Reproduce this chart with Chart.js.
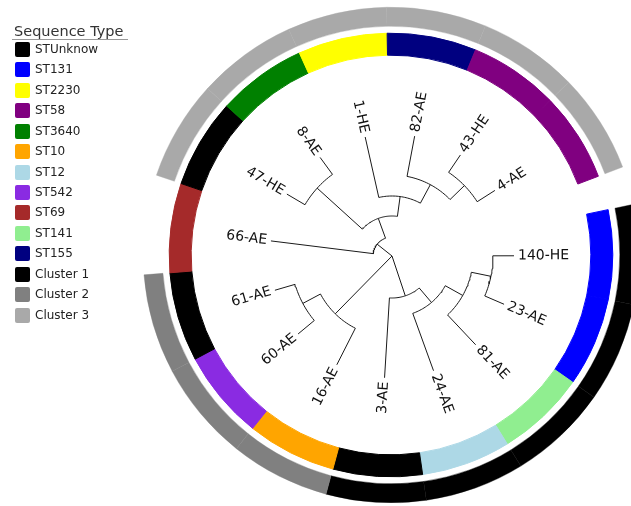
<!DOCTYPE html>
<html>
<head>
<meta charset="utf-8">
<script src="https://cdn.jsdelivr.net/npm/chart.js@4"></script>
<style>
  body { margin: 0; width: 631px; height: 506px; overflow: hidden; background: #fff; font-family: "DejaVu Sans", sans-serif; position: relative; }
  canvas { position: absolute; left: 0; top: 0; }
  #legend { position: absolute; left: 0; top: 0; width: 140px; height: 330px; }
  #legend .title { position: absolute; left: 14px; top: 23px; font-size: 14.5px; line-height: 17px; color: #333; white-space: nowrap; }
  #legend .rule { position: absolute; left: 12px; top: 39px; width: 116px; height: 1px; background: #999; }
  #legend .item { position: absolute; left: 15px; height: 15px; line-height: 15px; padding-left: 20px; font-size: 12px; color: #222; white-space: nowrap; }
  #legend .box { position: absolute; left: 0; top: 0; width: 15px; height: 15px; border-radius: 2px; }
</style>
</head>
<body>
<canvas id="rings" width="782" height="510"></canvas>
<canvas id="tree" width="782" height="510"></canvas>
<div id="legend"></div>
<script>
// leaves clockwise, starting just after the open gap on the right
const leaves = ['140-HE', '23-AE', '81-AE', '24-AE', '3-AE', '16-AE', '60-AE', '61-AE', '66-AE', '47-HE', '8-AE', '1-HE', '82-AE', '43-HE', '4-AE'];
const leafType = ['ST131', 'ST131', 'ST141', 'ST12', 'STUnknow', 'ST10', 'ST542', 'STUnknow', 'ST69', 'STUnknow', 'ST3640', 'ST2230', 'ST155', 'ST58', 'ST58'];
const leafCluster = ['Cluster 1', 'Cluster 1', 'Cluster 1', 'Cluster 1', 'Cluster 1', 'Cluster 2', 'Cluster 2', 'Cluster 2', '', 'Cluster 3', 'Cluster 3', 'Cluster 3', 'Cluster 3', 'Cluster 3', 'Cluster 3'];
const leafParent = ['L', 'L', 'K', 'J', 'H', 'G', 'I', 'I', 'F', 'E', 'E', 'A', 'B', 'C', 'C'];

// internal nodes of the tree and their distance from the root
const nodeNames = ['root', 'F', 'D', 'E', 'A', 'B', 'C', 'G', 'I', 'H', 'J', 'K', 'L'];
const nodeParent = ['', 'root', 'F', 'D', 'D', 'A', 'B', 'root', 'G', 'root', 'H', 'J', 'K'];
const nodeRadius = [0, 19, 40, 101, 60, 81, 101, 81, 101, 42, 61, 81, 101];
const tipRadius = 122;

const typeNames = ['STUnknow', 'ST131', 'ST2230', 'ST58', 'ST3640', 'ST10', 'ST12', 'ST542', 'ST69', 'ST141', 'ST155'];
const typeColors = ['#000000', '#0000ff', '#ffff00', '#800080', '#008000', '#ffa500', '#add8e6', '#8a2be2', '#a52a2a', '#90ee90', '#000080'];
const clusterNames = ['Cluster 1', 'Cluster 2', 'Cluster 3'];
const clusterColors = ['#000000', '#808080', '#a9a9a9'];

const slotDeg = 23.4;   // arc given to one leaf
const gapDeg = 9;       // open gap after the last leaf
const startDeg = 78.2;  // where 140-HE's slot begins (clockwise from top)

// ring slots: one per leaf plus the gap
const none = 'rgba(0,0,0,0)';
const slotLabels = leaves.concat(['']);
const slotSize = leaves.map(() => slotDeg).concat([gapDeg]);
const slotTypeColor = leafType.map(t => typeColors[typeNames.indexOf(t)]).concat([none]);
const slotClusterColor = leafCluster.map(c => c ? clusterColors[clusterNames.indexOf(c)] : none).concat([none]);

new Chart(document.getElementById('rings'), {
  type: 'doughnut',
  data: {
    labels: slotLabels,
    datasets: [
      { data: slotSize, backgroundColor: slotClusterColor, borderColor: slotClusterColor, weight: 19, borderWidth: 0.4, hoverOffset: 0 },
      { data: slotSize, backgroundColor: none, weight: 7, borderWidth: 0, hoverOffset: 0 },
      { data: slotSize, backgroundColor: slotTypeColor, borderColor: slotTypeColor, weight: 22, borderWidth: 1, hoverOffset: 0 }
    ]
  },
  options: {
    responsive: false,
    animation: false,
    events: [],
    rotation: startDeg,
    circumference: 360,
    cutout: '80.65%',
    layout: { padding: { left: 143, right: 143, top: 7, bottom: 7 } },
    plugins: { legend: { display: false }, tooltip: { enabled: false } }
  }
});

// tree layout
const leafAngle = leaves.map((l, i) => startDeg + slotDeg * i + slotDeg / 2);
const nodeAngle = {};
function angleOf(name) {
  if (nodeAngle[name] !== undefined) return nodeAngle[name];
  const kids = [];
  leaves.forEach((l, i) => { if (leafParent[i] === name) kids.push(leafAngle[i]); });
  nodeNames.forEach((n, i) => { if (nodeParent[i] === name) kids.push(angleOf(n)); });
  nodeAngle[name] = (Math.min(...kids) + Math.max(...kids)) / 2;
  return nodeAngle[name];
}
nodeNames.forEach(angleOf);

function polar(r, deg) {
  const a = deg * Math.PI / 180;
  return { x: r * Math.sin(a), y: r * Math.cos(a) };
}

// each branch: along the parent's arc to the child's angle, then out to the child
function branch(parent, childR, childA) {
  const pi = nodeNames.indexOf(parent);
  const pr = nodeRadius[pi], pa = nodeAngle[parent];
  const pts = [];
  const steps = Math.max(1, Math.ceil(Math.abs(childA - pa) / 1.5));
  for (let s = 0; s <= steps; s++) pts.push(polar(pr, pa + (childA - pa) * s / steps));
  pts.push(polar(childR, childA));
  return pts;
}

const branches = [];
nodeNames.forEach((n, i) => { if (nodeParent[i]) branches.push(branch(nodeParent[i], nodeRadius[i], nodeAngle[n])); });
leaves.forEach((l, i) => branches.push(branch(leafParent[i], tipRadius, leafAngle[i])));

const leafLabels = {
  id: 'leafLabels',
  afterDatasetsDraw(chart) {
    const { ctx, scales: { x, y } } = chart;
    ctx.save();
    ctx.font = '14px "DejaVu Sans"';
    ctx.fillStyle = '#111';
    ctx.textBaseline = 'middle';
    leaves.forEach((name, i) => {
      const a = ((leafAngle[i] % 360) + 360) % 360;
      const p = polar(tipRadius + 4, a);
      ctx.save();
      ctx.translate(x.getPixelForValue(p.x), y.getPixelForValue(p.y));
      if (a < 180) {
        ctx.rotate((a - 90) * Math.PI / 180);
        ctx.textAlign = 'left';
      } else {
        ctx.rotate((a - 270) * Math.PI / 180);
        ctx.textAlign = 'right';
      }
      ctx.fillText(name, 0, 0);
      ctx.restore();
    });
    ctx.restore();
  }
};

new Chart(document.getElementById('tree'), {
  type: 'scatter',
  data: {
    datasets: branches.map(pts => ({
      data: pts,
      showLine: true,
      borderColor: '#1a1a1a',
      borderWidth: 1,
      pointRadius: 0,
      tension: 0,
      fill: false
    }))
  },
  options: {
    responsive: false,
    animation: false,
    events: [],
    layout: { padding: { left: 144, right: 142, top: 8, bottom: 6 } },
    scales: {
      x: { type: 'linear', min: -248, max: 248, display: false },
      y: { type: 'linear', min: -248, max: 248, display: false }
    },
    plugins: { legend: { display: false }, tooltip: { enabled: false } }
  },
  plugins: [leafLabels]
});

// legend
const legend = document.getElementById('legend');
const legendNames = typeNames.concat(clusterNames);
const legendColors = typeColors.concat(clusterColors);
let html = '<div class="title">Sequence Type</div><div class="rule"></div>';
legendNames.forEach((n, i) => {
  html += '<div class="item" style="top:' + (41.8 + i * 20.45).toFixed(1) + 'px"><span class="box" style="background:' + legendColors[i] + '"></span>' + n + '</div>';
});
legend.innerHTML = html;
</script>
</body>
</html>
